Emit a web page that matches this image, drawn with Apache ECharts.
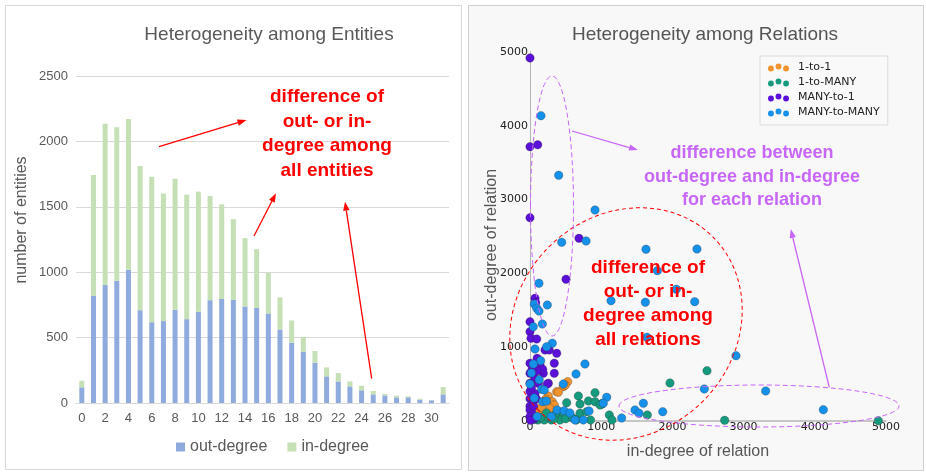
<!DOCTYPE html>
<html><head><meta charset="utf-8">
<script src="https://cdn.jsdelivr.net/npm/echarts@6/dist/echarts.min.js"></script>
<style>html,body{margin:0;padding:0;background:#fff}#c{width:926px;height:475px}</style>
</head><body><div id="c"></div>
<script>
// ---------- Left chart data ----------
const categories = ['0','1','2','3','4','5','6','7','8','9','10','11','12','13','14','15','16','17','18','19','20','21','22','23','24','25','26','27','28','29','30','31'];
const outDegree = [120,819,903,934,1018,710,618,626,712,641,697,786,796,789,738,728,685,562,461,392,308,204,165,127,97,66,58,43,43,25,20,66];
const inDegree  = [50,924,1232,1175,1153,1102,1112,975,1003,952,919,797,723,616,522,448,310,245,170,114,89,68,64,38,35,26,11,13,8,8,2,56];

// ---------- Right chart data: [in-degree, out-degree] ----------
const oneToOne = [[529,533],[468,465],[495,485],[375,397],[398,390],[257,339],[313,262],[341,217],[281,172],[117,126],[14,23],[220,294],[164,81],[164,185],[60,40]];
const oneToMany = [[2486,682],[1966,515],[1114,81],[1648,81],[2734,9],[1152,14],[1007,226],[4892,4],[515,248],[679,339],[913,384],[820,271],[913,262],[1016,240],[398,126],[480,100],[540,60],[702,104],[796,126],[850,14],[112,14],[200,14],[300,14],[420,14],[500,30],[600,40],[250,60],[350,80],[150,50],[650,14],[983,217],[702,230],[60,20],[230,110],[330,30]];
const manyToOne = [[0,4920],[0,3717],[108,3744],[0,2755],[688,2475],[506,1920],[70,1662],[80,1603],[0,1346],[0,1210],[14,1120],[94,1111],[211,962],[375,917],[140,759],[341,782],[0,782],[0,646],[187,646],[341,646],[70,577],[257,511],[117,511],[0,511],[0,400],[70,370],[0,300],[40,250],[0,200],[0,150],[30,100],[0,60],[60,30],[10,10],[178,700],[243,500],[100,850],[271,962],[20,450],[50,200],[90,300],[100,680],[30,700]];
const manyToMany = [[154,4137],[403,3329],[913,2859],[445,2421],[787,2439],[126,1866],[60,1585],[94,1527],[126,1490],[243,1572],[173,1314],[46,1278],[313,1053],[234,1007],[70,976],[1138,1630],[1629,2326],[2345,2331],[1788,2037],[2055,1785],[1620,1608],[2313,1617],[1643,1134],[2893,885],[2448,434],[3310,407],[1077,321],[1030,240],[1592,240],[1475,149],[1531,104],[1864,126],[1287,41],[4120,153],[772,772],[646,637],[468,501],[150,817],[47,772],[178,262],[829,136],[749,14],[632,14],[164,430],[60,310],[230,270],[380,150],[480,140],[560,110],[20,650],[0,500],[100,60],[300,60],[200,420],[130,560]];

const chart = echarts.init(document.getElementById('c'));

function arrow(x1,y1,x2,y2,color,w){
  const a = Math.atan2(y2-y1,x2-x1), L=9, H=3.2;
  const bx = x2 - L*Math.cos(a), by = y2 - L*Math.sin(a);
  const px = -Math.sin(a), py = Math.cos(a);
  return [
    {type:'line', z:100, shape:{x1:x1,y1:y1,x2:bx,y2:by}, style:{stroke:color,lineWidth:w}},
    {type:'polygon', z:100, shape:{points:[[x2,y2],[bx+px*H,by+py*H],[bx-px*H,by-py*H]]}, style:{fill:color}}
  ];
}
const RED='#ff0000', PUR='#c866f8';
const dotsIcon = 'path://M0,5a2.8,2.8 0 1,0 5.6,0a2.8,2.8 0 1,0 -5.6,0M7.2,3a2.8,2.8 0 1,0 5.6,0a2.8,2.8 0 1,0 -5.6,0M14.4,5a2.8,2.8 0 1,0 5.6,0a2.8,2.8 0 1,0 -5.6,0';
const plain = v => String(v);

const graphics = [
  {type:'rect', z:-10, shape:{x:5.5,y:5.5,width:456,height:464}, style:{fill:'#ffffff',stroke:'#d9d9d9',lineWidth:1}},
  {type:'rect', z:-10, shape:{x:468.5,y:5.5,width:455,height:465}, style:{fill:'#f8f8f8',stroke:'#cfcfcf',lineWidth:1}},
  {type:'text', z:50, x:22, y:220, rotation:Math.PI/2, style:{text:'number of entities', fill:'#595959', font:'16px Liberation Sans, Arial, sans-serif', align:'center', verticalAlign:'middle'}},
  {type:'text', z:50, x:698, y:452, style:{text:'in-degree of relation', fill:'#555555', font:'16px Liberation Sans, Arial, sans-serif', align:'center', verticalAlign:'middle'}},
  {type:'text', z:50, x:492, y:245, rotation:Math.PI/2, style:{text:'out-degree of relation', fill:'#555555', font:'16px Liberation Sans, Arial, sans-serif', align:'center', verticalAlign:'middle'}},
  {type:'text', z:100, x:327, y:134, style:{text:'difference of\nout- or in-\ndegree among\nall entities', fill:RED, font:'bold 19px Liberation Sans, Arial, sans-serif', align:'center', verticalAlign:'middle', lineHeight:24.5}},
  {type:'text', z:100, x:648, y:304, style:{text:'difference of\nout- or in-\ndegree among\nall relations', fill:RED, font:'bold 19px Liberation Sans, Arial, sans-serif', align:'center', verticalAlign:'middle', lineHeight:24}},
  {type:'text', z:100, x:752, y:177, style:{text:'difference between\nout-degree and in-degree\nfor each relation', fill:PUR, font:'bold 18px Liberation Sans, Arial, sans-serif', align:'center', verticalAlign:'middle', lineHeight:23.5}},
  {type:'ellipse', z:90, x:626, y:324, rotation:Math.PI/4, shape:{cx:0,cy:0,rx:123,ry:109}, style:{fill:'none',stroke:RED,lineWidth:1,lineDash:[4,3]}},
  {type:'ellipse', z:90, shape:{cx:552,cy:206,rx:21.5,ry:130}, style:{fill:'none',stroke:PUR,lineWidth:1,lineDash:[5,3]}},
  {type:'ellipse', z:90, shape:{cx:759,cy:406,rx:140,ry:21}, style:{fill:'none',stroke:PUR,lineWidth:1,lineDash:[5,3]}}
].concat(
  arrow(159,146.7,246.5,120,RED,1.3),
  arrow(254,236,276,193.3,RED,1.3),
  arrow(371.7,378.7,345,201.7,RED,1.3),
  arrow(572,131,638,150,PUR,1.3),
  arrow(829.3,387.3,790.7,229,PUR,1.3)
);

const scatterStyle = (c)=>({color:c, borderColor:'rgba(40,40,40,0.55)', borderWidth:0.5, opacity:1});

chart.setOption({
  animation:false,
  textStyle:{fontFamily:'Liberation Sans, Arial, sans-serif'},
  title:[
    {text:'Heterogeneity among Entities', left:264, top:30, textAlign:'center', textVerticalAlign:'middle', textStyle:{color:'#595959', fontSize:19, fontWeight:'normal', fontFamily:'Liberation Sans, Arial, sans-serif'}},
    {text:'Heterogeneity among Relations', left:700, top:30, textAlign:'center', textVerticalAlign:'middle', textStyle:{color:'#555555', fontSize:19, fontWeight:'normal', fontFamily:'Liberation Sans, Arial, sans-serif'}}
  ],
  legend:[
    {left:171, top:434, itemWidth:9, itemHeight:9, itemGap:20, icon:'rect', data:['out-degree','in-degree'], textStyle:{color:'#595959', fontSize:16, fontFamily:'Liberation Sans, Arial, sans-serif'}},
    {left:760, top:56, orient:'vertical', itemWidth:21, itemHeight:8, itemGap:4, padding:[6,8,7,8], backgroundColor:'#f9f9f9', borderColor:'#dcdcdc', borderWidth:1,
     itemStyle:{borderWidth:0},
     data:[{name:'1-to-1',icon:dotsIcon},{name:'1-to-MANY',icon:dotsIcon},{name:'MANY-to-1',icon:dotsIcon},{name:'MANY-to-MANY',icon:dotsIcon}],
     textStyle:{color:'#222', fontSize:11, lineHeight:11, padding:[0,0,0,4], fontFamily:'DejaVu Sans, sans-serif'}}
  ],
  grid:[
    {left:76, top:76, width:373, height:327},
    {left:530, top:52, width:356, height:369}
  ],
  xAxis:[
    {gridIndex:0, type:'category', data:categories, axisLine:{lineStyle:{color:'#d9d9d9'}}, axisTick:{show:false}, axisLabel:{interval:1, color:'#595959', fontSize:13, margin:9}},
    {gridIndex:1, type:'value', min:0, max:5000, interval:1000, splitLine:{show:false}, axisLine:{lineStyle:{color:'#b5b5b5', width:1.5}}, axisTick:{show:false}, axisLabel:{color:'#222', fontSize:11, margin:1, formatter:plain, fontFamily:'DejaVu Sans, sans-serif'}}
  ],
  yAxis:[
    {gridIndex:0, type:'value', min:0, max:2500, interval:500, axisLine:{show:false}, axisTick:{show:false}, splitLine:{lineStyle:{color:'#d9d9d9'}}, axisLabel:{color:'#595959', fontSize:13, margin:8, formatter:plain}},
    {gridIndex:1, type:'value', min:0, max:5000, interval:1000, splitLine:{show:false}, axisLine:{show:true, lineStyle:{color:'#b5b5b5', width:1}}, axisTick:{show:false}, axisLabel:{color:'#222', fontSize:11, margin:2, formatter:plain, fontFamily:'DejaVu Sans, sans-serif'}}
  ],
  series:[
    {name:'out-degree', type:'bar', stack:'deg', xAxisIndex:0, yAxisIndex:0, barWidth:5, data:outDegree, itemStyle:{color:'#8faadc'}},
    {name:'in-degree', type:'bar', stack:'deg', xAxisIndex:0, yAxisIndex:0, barWidth:5, data:inDegree, itemStyle:{color:'#c5e0b4'}},
    {name:'1-to-1', type:'scatter', xAxisIndex:1, yAxisIndex:1, symbolSize:8.5, data:oneToOne, itemStyle:scatterStyle('#f0922e')},
    {name:'1-to-MANY', type:'scatter', xAxisIndex:1, yAxisIndex:1, symbolSize:8.5, data:oneToMany, itemStyle:scatterStyle('#169a7e')},
    {name:'MANY-to-1', type:'scatter', xAxisIndex:1, yAxisIndex:1, symbolSize:8.5, data:manyToOne, itemStyle:scatterStyle('#5a10d8')},
    {name:'MANY-to-MANY', type:'scatter', xAxisIndex:1, yAxisIndex:1, symbolSize:8.5, data:manyToMany, itemStyle:scatterStyle('#1591ea')}
  ],
  graphic:graphics
});
</script></body></html>
